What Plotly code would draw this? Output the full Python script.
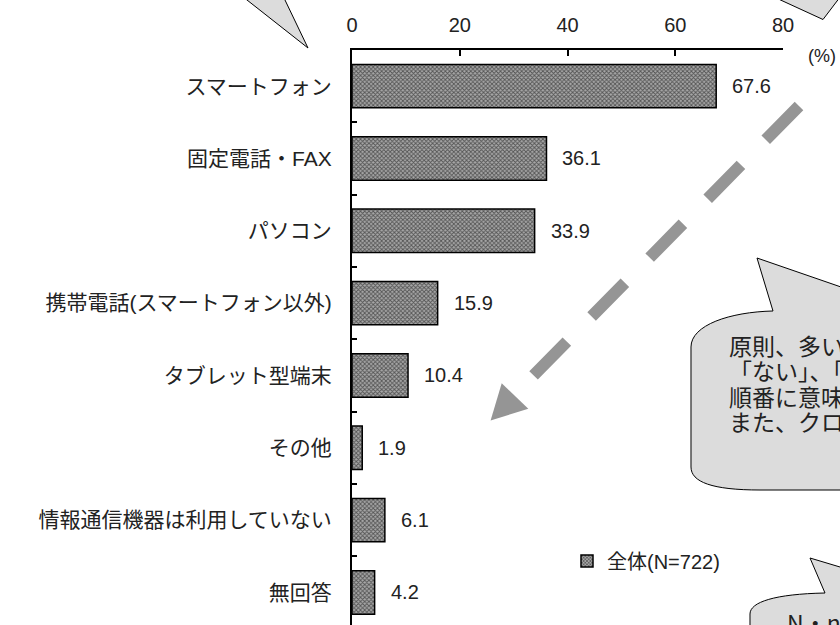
import plotly.graph_objects as go

# ---- data ----
categories = [
    "スマートフォン",
    "固定電話・FAX",
    "パソコン",
    "携帯電話(スマートフォン以外)",
    "タブレット型端末",
    "その他",
    "情報通信機器は利用していない",
    "無回答",
]
values = [67.6, 36.1, 33.9, 15.9, 10.4, 1.9, 6.1, 4.2]
x_ticks = [0, 20, 40, 60, 80]
series_name = "全体(N=722)"
unit_label = "(%)"
note_lines = ["原則、多い", "「ない」、「", "順番に意味", "また、クロ"]
note2_text = "N・n"

# ---- page geometry (pixels) ----
W, H = 840, 625
ML, MR, MT, MB = 352, 57, 50, 0
PW, PH = W - ML - MR, H - MT - MB

LATIN_JP = "Liberation Sans, Noto Sans CJK JP, sans-serif"
JP = "Noto Sans CJK JP, sans-serif"
TXT = "#222222"
BUBBLE = "#dcdcdc"
ARROW = "#959595"


def px(x):
    return (x - ML) / PW


def py(y):
    return 1 - (y - MT) / PH


def pt(p):
    return f"{px(p[0]):.5f},{py(p[1]):.5f}"


def path(start, *segs):
    """Closed SVG path in paper units; segs are ('L', p) or ('C', p1, p2, p3)."""
    out = [f"M{pt(start)}"]
    for seg in segs:
        cmd, pts = seg[0], seg[1:]
        out.append(cmd + " ".join(pt(p) for p in pts))
    return " ".join(out) + " Z"


fig = go.Figure()

fig.add_trace(
    go.Bar(
        y=categories,
        x=values,
        orientation="h",
        width=0.6,
        name=series_name,
        showlegend=True,
        marker=dict(
            color="#9a9a9a",
            pattern=dict(shape="x", fgcolor="#000000", bgcolor="#a8a8a8", size=3, solidity=0.5),
            line=dict(color="#000000", width=1.5),
        ),
        hoverinfo="skip",
    )
)

annotations = []
for c, v in zip(categories, values):
    annotations.append(
        dict(
            x=v, y=c, xref="x", yref="y", text=f"{v:.1f}",
            xanchor="left", yanchor="middle", xshift=14, showarrow=False,
            font=dict(family=LATIN_JP, size=20, color=TXT),
        )
    )

annotations.append(
    dict(
        x=px(822), y=py(56), xref="paper", yref="paper", text=unit_label,
        xanchor="center", yanchor="middle", showarrow=False,
        font=dict(family=LATIN_JP, size=18, color=TXT),
    )
)

# note text inside the speech bubble
for i, line in enumerate(note_lines):
    annotations.append(
        dict(
            x=px(727), y=py(345 + 25.3 * i), xref="paper", yref="paper", text=line,
            xanchor="left", yanchor="middle", showarrow=False,
            font=dict(family=JP, size=23, color=TXT),
        )
    )
annotations.append(
    dict(
        x=px(785), y=py(622), xref="paper", yref="paper", text=note2_text,
        xanchor="left", yanchor="middle", showarrow=False,
        font=dict(family=JP, size=23, color=TXT),
    )
)

outline = dict(color="#000000", width=1)
shapes = [
    # speech-bubble tails along the top edge
    dict(type="path", xref="paper", yref="paper",
         path=path((221.6, -20), ("L", (308, 48)), ("L", (275.4, -20))),
         fillcolor=BUBBLE, line=outline),
    dict(type="path", xref="paper", yref="paper",
         path=path((737, -20), ("L", (823, 19.5)), ("L", (853, -20))),
         fillcolor=BUBBLE, line=outline),
    # middle speech bubble
    dict(type="path", xref="paper", yref="paper",
         path=path(
             (757, 258),
             ("L", (773, 311)),
             ("C", (730, 312), (691, 325), (691, 347)),
             ("L", (691, 467)),
             ("C", (691, 482), (712, 490), (760, 490)),
             ("L", (870, 490)),
             ("L", (870, 297)),
         ),
         fillcolor=BUBBLE, line=outline),
    # lower speech bubble
    dict(type="path", xref="paper", yref="paper",
         path=path(
             (810, 558),
             ("L", (825, 593)),
             ("C", (775, 594), (750, 602), (750, 614)),
             ("L", (750, 660)),
             ("L", (870, 660)),
             ("L", (870, 576)),
         ),
         fillcolor=BUBBLE, line=outline),
    # dashed arrow shaft
    dict(type="line", xref="paper", yref="paper",
         x0=px(799), y0=py(106), x1=px(532), y1=py(377),
         line=dict(color=ARROW, width=12, dash="47.4px,35.3px")),
    # arrow head
    dict(type="path", xref="paper", yref="paper",
         path=path((490.6, 420.4), ("L", (501.7, 383.3)), ("L", (528.3, 408.7))),
         fillcolor=ARROW, line=dict(width=0)),
]

fig.update_layout(
    width=W,
    height=H,
    autosize=False,
    margin=dict(l=ML, r=MR, t=MT, b=MB, pad=0),
    paper_bgcolor="#ffffff",
    plot_bgcolor="#ffffff",
    font=dict(family=LATIN_JP, color=TXT),
    bargap=0.4,
    annotations=annotations,
    shapes=shapes,
    legend=dict(
        x=px(567), y=py(561), xanchor="left", yanchor="middle",
        font=dict(family=LATIN_JP, size=20, color=TXT),
        bgcolor="rgba(0,0,0,0)", borderwidth=0,
    ),
    xaxis=dict(
        range=[0, 80], side="top", tickvals=x_ticks,
        ticks="inside", ticklen=6, tickwidth=1.5, tickcolor="#000000",
        showline=True, linewidth=2, linecolor="#000000",
        showgrid=False, zeroline=False,
        tickfont=dict(family=LATIN_JP, size=20, color=TXT),
        ticklabelstandoff=8,
    ),
    yaxis=dict(
        type="category", categoryorder="array", categoryarray=categories,
        range=[7.45, -0.5],
        ticks="inside", tickson="boundaries", ticklen=5, tickwidth=1.5, tickcolor="#000000",
        showline=True, linewidth=2, linecolor="#000000",
        showgrid=False, zeroline=False,
        tickfont=dict(family=LATIN_JP, size=21, color=TXT),
        ticklabelstandoff=14,
    ),
)

fig.write_html("out.html", config={"displayModeBar": False})
